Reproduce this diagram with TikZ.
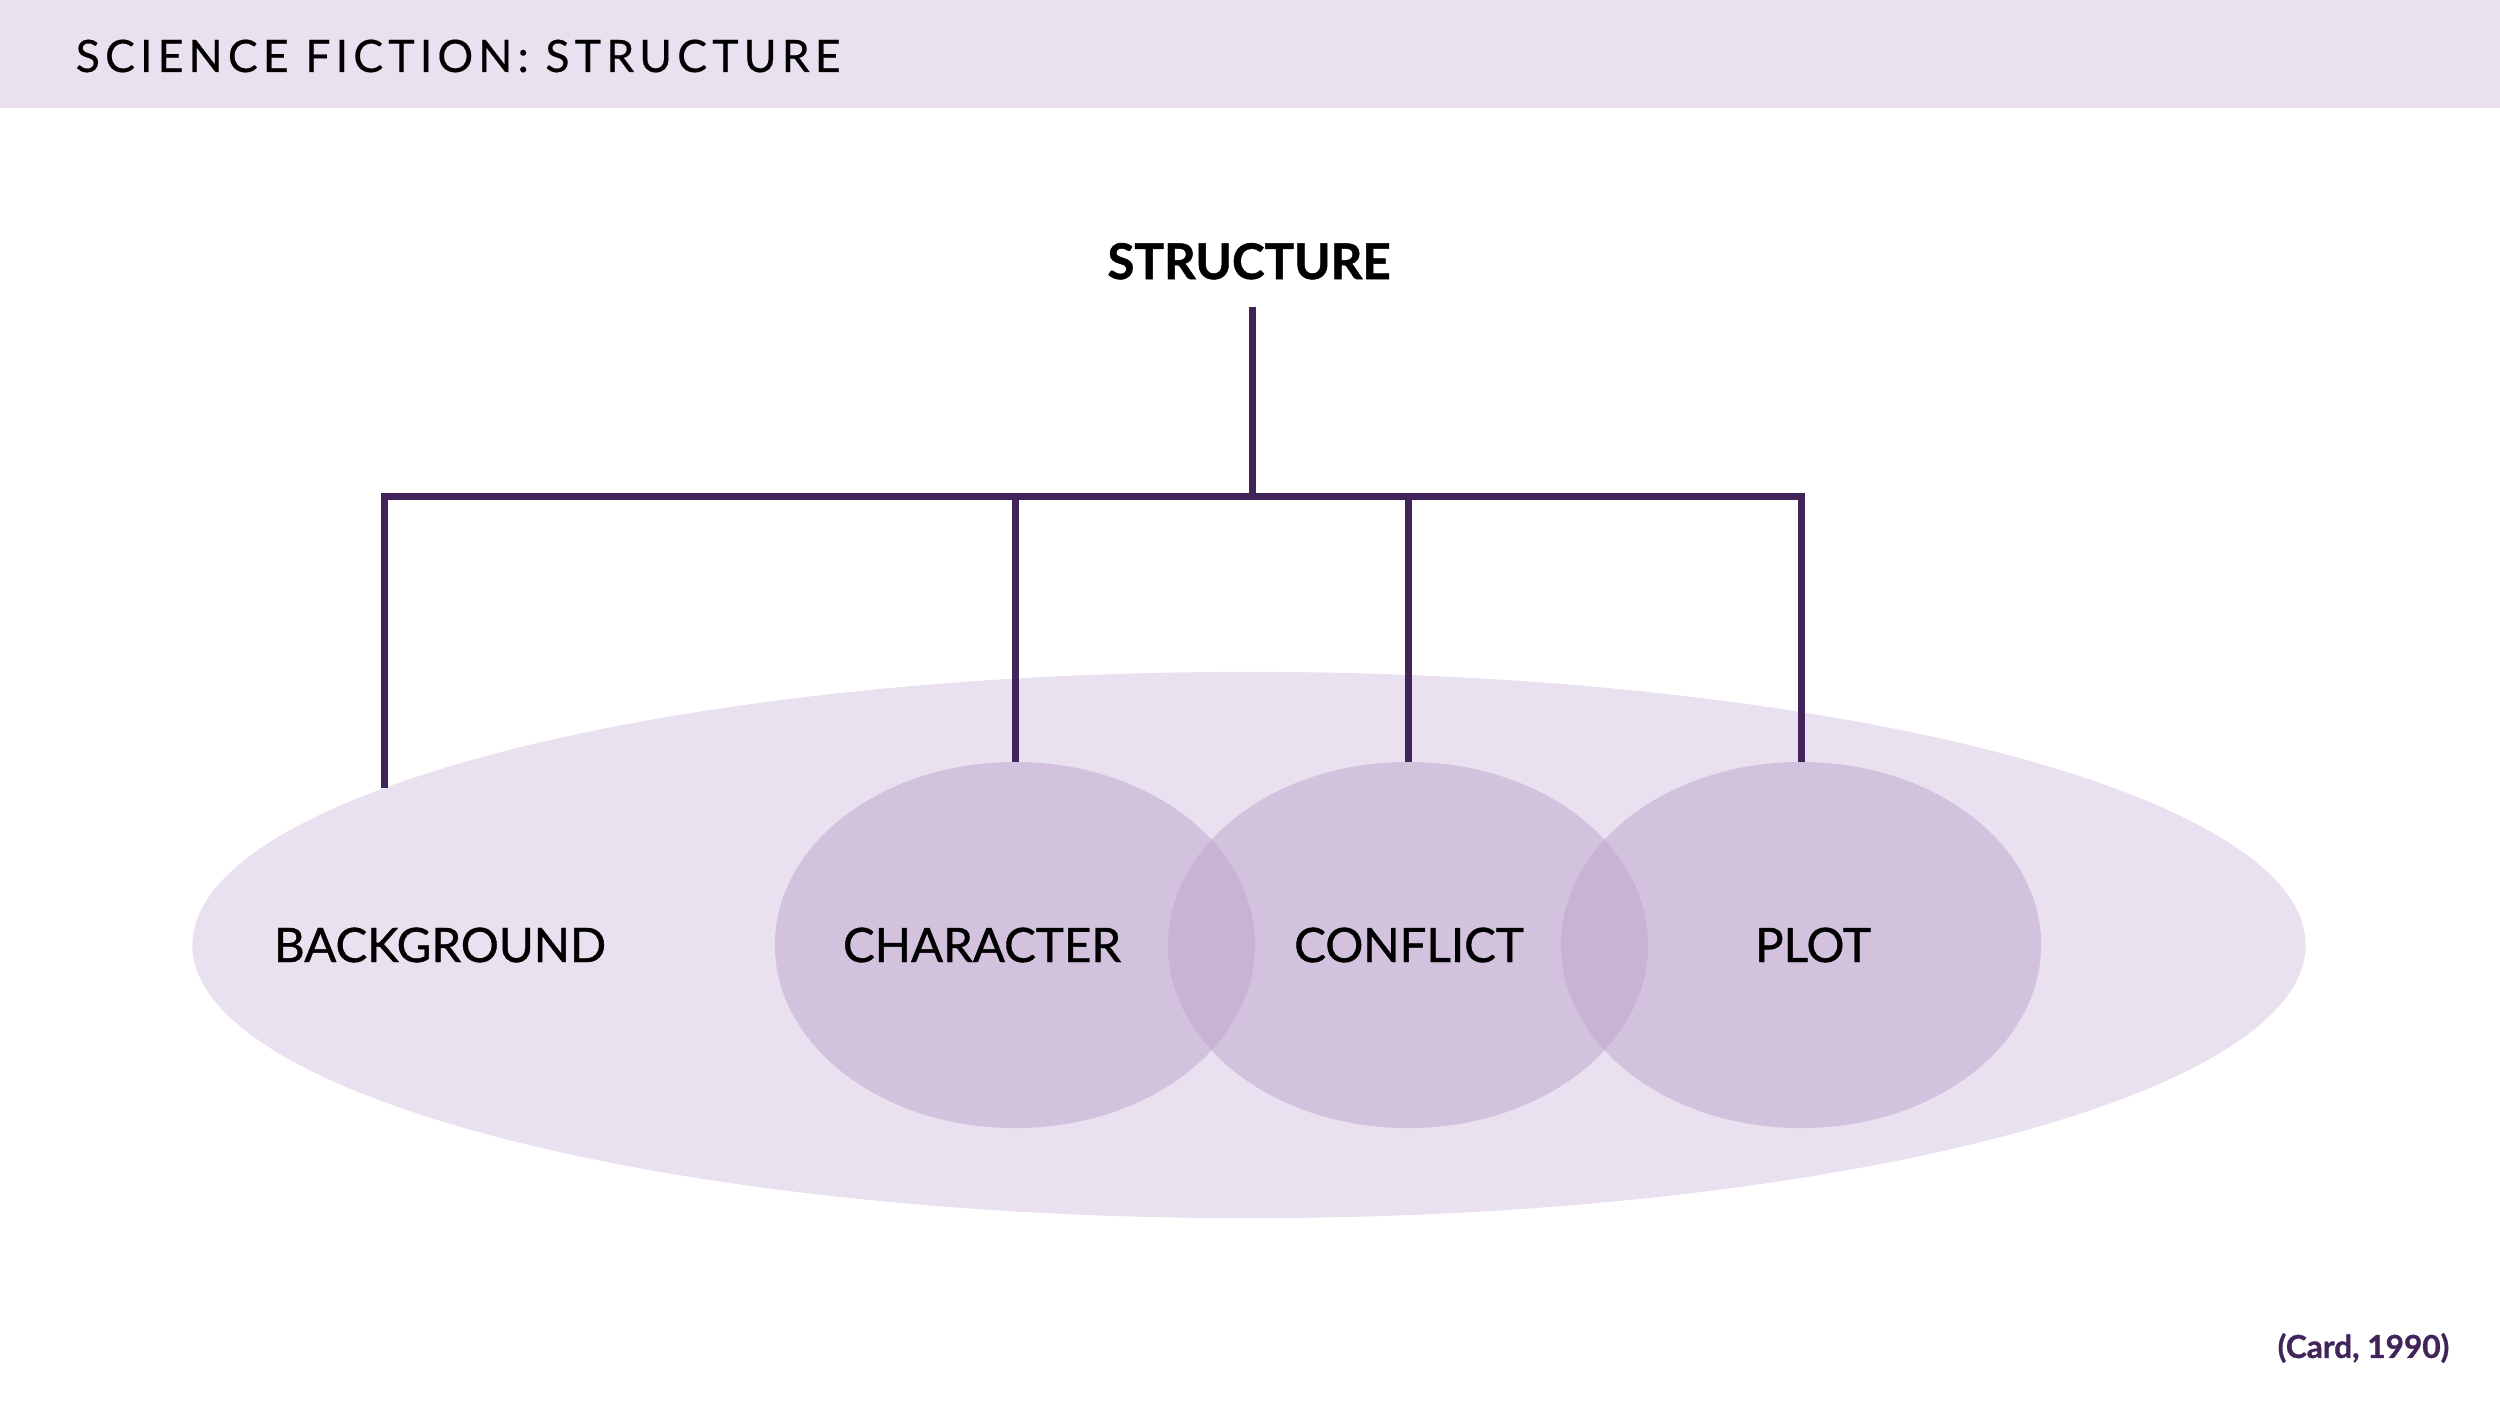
\documentclass[tikz,border=0pt]{standalone}
\usepackage{fontspec}
\usepackage{xcolor}
\usepackage{tikz}
\usetikzlibrary{shapes.geometric}
\setmainfont{Lato}
\newfontfamily\titlefont[LetterSpace=11.5, FakeBold=0.4]{Lato}
\newfontfamily\labelfont[FakeBold=0.9]{Lato}
\newfontfamily\headfont[FakeBold=1]{Lato Bold}
\definecolor{bandlilac}{RGB}{233,225,240}
\definecolor{circlelilac}{RGB}{191,165,206}
\definecolor{darkplum}{RGB}{64,36,90}

\begin{document}
\begin{tikzpicture}[x=0.01cm, y=-0.01cm]
% Define styles
\tikzstyle{band} = [fill=bandlilac]
\tikzstyle{outer} = [ellipse, fill=bandlilac, inner sep=0, outer sep=0, minimum width=21.12cm, minimum height=5.46cm]
\tikzstyle{part} = [ellipse, fill=circlelilac, fill opacity=0.5, inner sep=0, outer sep=0, minimum width=4.8cm, minimum height=3.66cm]
\tikzstyle{label} = [inner sep=0, font=\labelfont\fontsize{13.5}{15}\selectfont]
\tikzstyle{branch} = [line width=0.07cm, draw=darkplum, line join=miter]

\useasboundingbox (0,0) rectangle (2500,1406);

% Header
\fill [band] (0,0) rectangle (2500,108);
\node [anchor=west, inner sep=0, font=\titlefont\fontsize{12.7}{15}\selectfont] (title) at (75,56) {SCIENCE FICTION: STRUCTURE};

% Place nodes
\node [outer] (whole) at (1249,945) {};
\node [part] (character) at (1015,945) {};
\node [part] (conflict) at (1408,945) {};
\node [part] (plot) at (1801,945) {};
\node [label] (background-text) at (440,945) {BACKGROUND};
\node [label] (character-text) at (982,945) {CHARACTER};
\node [label] (conflict-text) at (1409,945) {CONFLICT};
\node [label] (plot-text) at (1813,945) {PLOT};
\node [font=\headfont\fontsize{14}{16}\selectfont, text height=0.34cm, text depth=0, inner xsep=0, inner ysep=0.27cm] (structure) at (1249,262) {STRUCTURE};
\node [anchor=east, inner sep=0, text=darkplum, font=\headfont\fontsize{9}{11}\selectfont] (source) at (2450,1348) {(Card, 1990)};
\coordinate (hub) at (1252,496);
\coordinate (whole-edge) at (384,788);

% Draw lines
\draw [branch] (structure.south -| hub) -- (hub);
\draw [branch] (whole-edge) -- (whole-edge |- hub) -- (plot.north |- hub) -- (plot.north);
\draw [branch] (character.north) -- (character.north |- hub);
\draw [branch] (conflict.north) -- (conflict.north |- hub);
\end{tikzpicture}
\end{document}
